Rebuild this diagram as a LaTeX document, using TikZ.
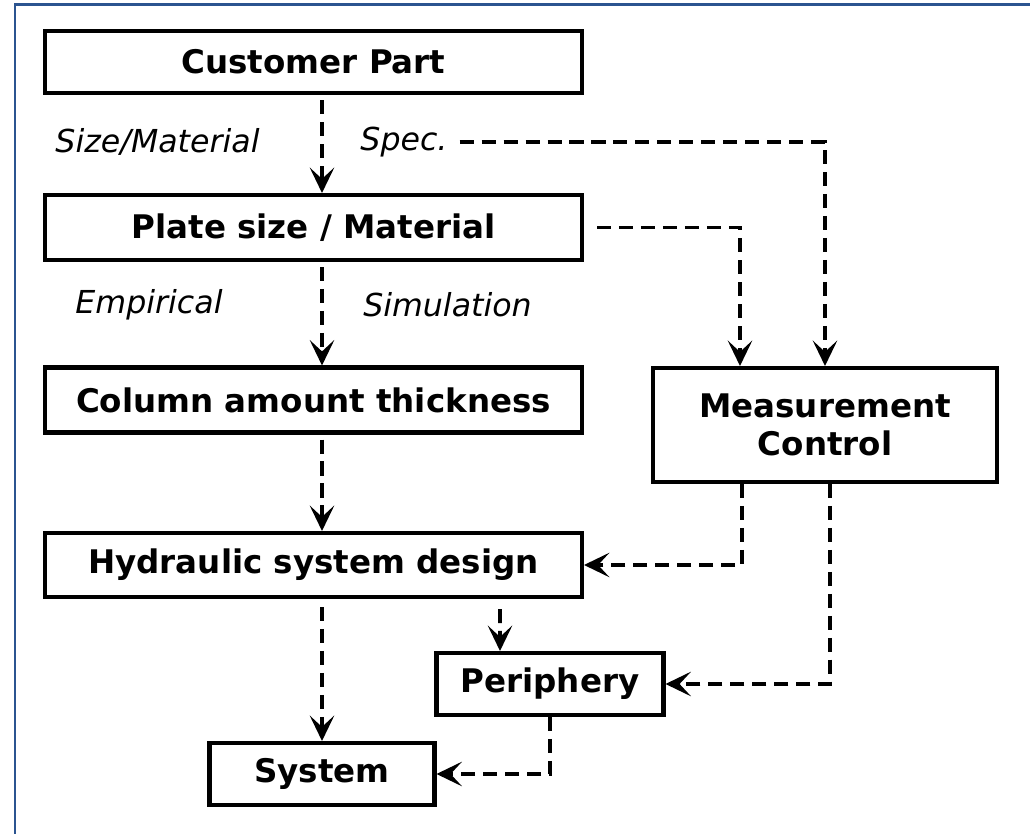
\documentclass[tikz,border=0pt]{standalone}
\usepackage{fontspec}
\setmainfont{DejaVu Sans}
\usetikzlibrary{arrows.meta,positioning}
\definecolor{frameBlue}{HTML}{2B5490}
\definecolor{flowBlack}{HTML}{000000}

\begin{document}
\begin{tikzpicture}[
 stage/.style={draw=flowBlack,line width=2.3pt,fill=white,font=\fontsize{18.5}{22}\selectfont\bfseries,align=center,minimum width=10.74cm,minimum height=1.25cm,inner sep=0pt},
 side/.style={draw=flowBlack,line width=2.3pt,fill=white,font=\fontsize{18.5}{22}\selectfont\bfseries,align=center,inner sep=0pt},
 flow/.style={line width=2.2pt,draw=flowBlack,dash pattern=on 8pt off 4.5pt,-{Stealth[length=14.5pt,width=14pt,inset=6.5pt,line width=1.2pt]}},
 hint/.style={font=\fontsize{18}{22}\selectfont\itshape,inner sep=1pt}
]
\useasboundingbox (0,0) rectangle (20.6,16.68);
\draw[frameBlue,line width=1.7pt] (0.3,-1) rectangle (21.5,16.58);

\node[stage] (cust) at (6.27,15.44) {Customer Part};
\node[stage,minimum height=1.3cm] (plate) at (6.27,12.13) {Plate size / Material};
\node[stage,minimum height=1.3cm] (column) at (6.27,8.68) {Column amount thickness};
\node[stage,minimum height=1.28cm] (hydr) at (6.27,5.38) {Hydraulic system design};
\node[side,minimum width=6.88cm,minimum height=2.28cm] (meas) at (16.5,8.18) {Measurement\\Control};
\node[side,minimum width=4.54cm,minimum height=1.24cm] (peri) at (11.0,3.0) {Periphery};
\node[side,minimum width=4.5cm,minimum height=1.24cm] (sys) at (6.44,1.2) {System};

\node[hint] (sizemat) at (3.15,13.84) {Size/Material};
\node[hint] (spec) at (8.08,13.84) {Spec.};
\node[hint] (empir) at (2.98,10.58) {Empirical};
\node[hint] (simul) at (8.95,10.58) {Simulation};

% main chain
\draw[flow,shorten <=0.1cm] ([xshift=0.17cm]cust.south) -- ([xshift=0.17cm]plate.north);
\draw[flow,shorten <=0.1cm] ([xshift=0.17cm]plate.south) -- ([xshift=0.17cm]column.north);
\draw[flow,shorten <=0.1cm] ([xshift=0.17cm]column.south) -- ([xshift=0.17cm]hydr.north);
\draw[flow,shorten <=0.16cm] ([xshift=0.17cm]hydr.south) -- (sys.north);
\draw[flow,shorten <=0.2cm] ([xshift=3.73cm]hydr.south) -- ([xshift=-1cm]peri.north);
\draw[flow] (peri.south) |- (sys.east);

% measurement
\draw[flow,shorten <=0.2cm] (spec.east) -| (meas.north);
\draw[flow,shorten <=0.26cm] (plate.east) -| ([xshift=-1.7cm]meas.north);
\draw[flow] ([xshift=-1.66cm]meas.south) |- (hydr.east);
\draw[flow] ([xshift=0.1cm]meas.south) |- (peri.east);
\end{tikzpicture}
\end{document}
